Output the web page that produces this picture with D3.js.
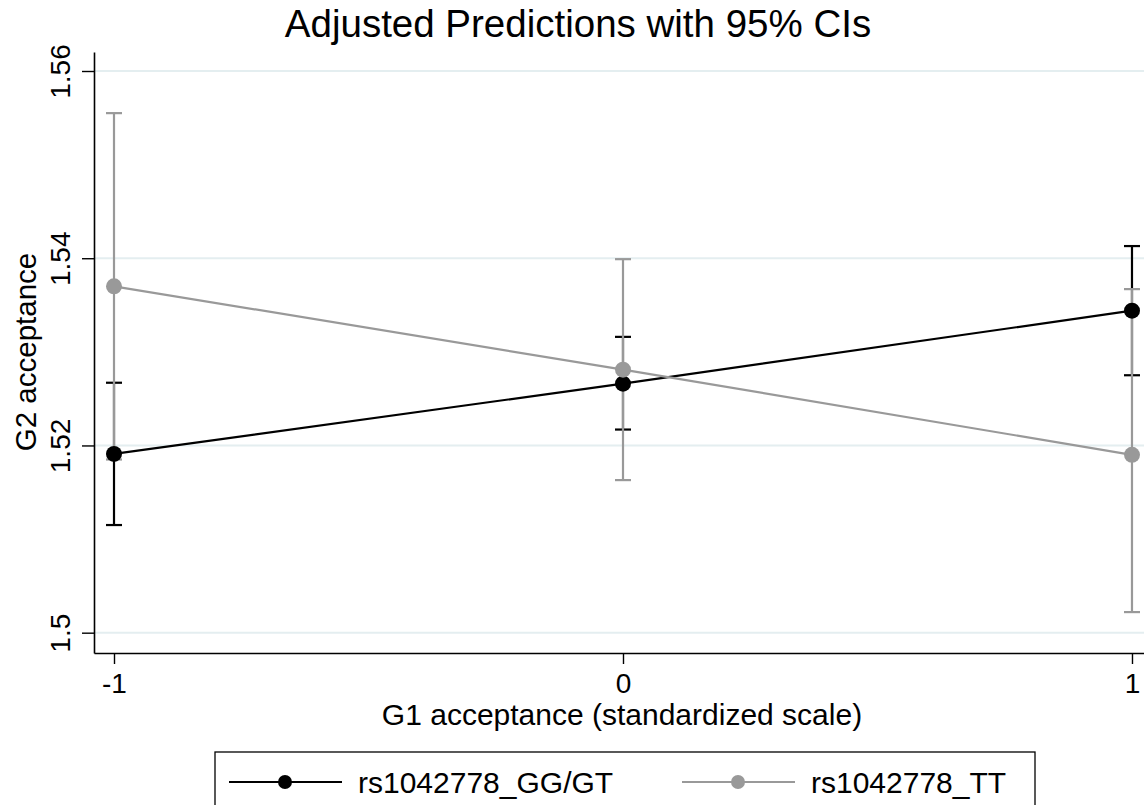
<!DOCTYPE html>
<html>
<head>
<meta charset="utf-8">
<script src="https://cdn.jsdelivr.net/npm/d3@7"></script>
<style>
  html, body { margin: 0; padding: 0; background: #fff; }
  svg { display: block; font-family: "Liberation Sans", Arial, Helvetica, sans-serif; }
</style>
</head>
<body>
<svg id="chart"></svg>
<script>
// Chart size
const width = 1144;
const height = 805;

// Data
const xValues = [-1, 0, 1];
const xTicks = [-1, 0, 1];
const yTicks = [1.5, 1.52, 1.54, 1.56];
const seriesNames = ["rs1042778_GG/GT", "rs1042778_TT"];

const ggMargin = [1.5191, 1.5266, 1.5344];
const ggLower = [1.5115, 1.5217, 1.5275];
const ggUpper = [1.5267, 1.5316, 1.5413];

const ttMargin = [1.5370, 1.5281, 1.5190];
const ttLower = [1.5185, 1.5163, 1.5022];
const ttUpper = [1.5555, 1.5399, 1.5367];

const colors = ["#000000", "#999999"];

const series = [
  { name: seriesNames[0], color: colors[0], values: xValues.map((x, i) => ({ x, y: ggMargin[i], lo: ggLower[i], hi: ggUpper[i] })) },
  { name: seriesNames[1], color: colors[1], values: xValues.map((x, i) => ({ x, y: ttMargin[i], lo: ttLower[i], hi: ttUpper[i] })) }
];

const svg = d3.select("#chart")
  .attr("width", width)
  .attr("height", height);

// Scales (plot region 94..1144 by 52..653)
const x = d3.scaleLinear()
  .domain([-1.0393, 1.0236])
  .range([94, 1144]);

const y = d3.scaleLinear()
  .domain([1.49783, 1.56203])
  .range([653, 52]);

// Gridlines
svg.append("g")
  .selectAll("line")
  .data(yTicks)
  .enter()
  .append("line")
  .attr("x1", 94)
  .attr("x2", width)
  .attr("y1", d => y(d))
  .attr("y2", d => y(d))
  .attr("stroke", "#e4eef0")
  .attr("stroke-width", 2);

// Y axis
const yAxis = svg.append("g")
  .attr("transform", "translate(94,0)")
  .call(d3.axisLeft(y).tickValues(yTicks).tickSize(12).tickSizeOuter(0)
    .tickFormat(d => String(+d.toFixed(2))));
yAxis.select(".domain").attr("stroke", "#000").attr("stroke-width", 1.6);
yAxis.selectAll(".tick line").attr("stroke", "#000").attr("stroke-width", 1.4);
yAxis.selectAll(".tick text")
  .attr("transform", "rotate(-90)")
  .attr("x", 0)
  .attr("y", -24)
  .attr("dy", 0)
  .attr("text-anchor", "middle")
  .attr("fill", "#000")
  .style("font-size", "28px");

// X axis
const xAxis = svg.append("g")
  .attr("transform", "translate(0,653)")
  .call(d3.axisBottom(x).tickValues(xTicks).tickSize(11).tickSizeOuter(0)
    .tickFormat(d => String(d)));
xAxis.select(".domain").attr("stroke", "#000").attr("stroke-width", 1.6);
xAxis.selectAll(".tick line").attr("stroke", "#000").attr("stroke-width", 1.4);
xAxis.selectAll(".tick text")
  .attr("y", 40)
  .attr("dy", 0)
  .attr("fill", "#000")
  .style("font-size", "28px");

// Titles
svg.append("text")
  .attr("x", 578)
  .attr("y", 37)
  .attr("text-anchor", "middle")
  .style("font-size", "38.5px")
  .text("Adjusted Predictions with 95% CIs");

svg.append("text")
  .attr("x", 622)
  .attr("y", 725)
  .attr("text-anchor", "middle")
  .style("font-size", "30px")
  .text("G1 acceptance (standardized scale)");

svg.append("text")
  .attr("transform", "translate(36,352) rotate(-90)")
  .attr("text-anchor", "middle")
  .style("font-size", "29.5px")
  .text("G2 acceptance");

// Confidence intervals
const capHalf = 8;
series.forEach(s => {
  const g = svg.append("g").attr("stroke", s.color).attr("stroke-width", 2.2);
  g.selectAll(".bar")
    .data(s.values)
    .enter()
    .append("line")
    .attr("x1", d => x(d.x))
    .attr("x2", d => x(d.x))
    .attr("y1", d => y(d.lo))
    .attr("y2", d => y(d.hi));
  g.selectAll(".capHi")
    .data(s.values)
    .enter()
    .append("line")
    .attr("x1", d => x(d.x) - capHalf)
    .attr("x2", d => x(d.x) + capHalf)
    .attr("y1", d => y(d.hi))
    .attr("y2", d => y(d.hi));
  g.selectAll(".capLo")
    .data(s.values)
    .enter()
    .append("line")
    .attr("x1", d => x(d.x) - capHalf)
    .attr("x2", d => x(d.x) + capHalf)
    .attr("y1", d => y(d.lo))
    .attr("y2", d => y(d.lo));
});

// Connected lines and markers
const line = d3.line().x(d => x(d.x)).y(d => y(d.y));
series.forEach(s => {
  svg.append("path")
    .datum(s.values)
    .attr("d", line)
    .attr("fill", "none")
    .attr("stroke", s.color)
    .attr("stroke-width", 2.2);
  svg.selectAll(null)
    .data(s.values)
    .enter()
    .append("circle")
    .attr("cx", d => x(d.x))
    .attr("cy", d => y(d.y))
    .attr("r", 8)
    .attr("fill", s.color);
});

// Legend
svg.append("rect")
  .attr("x", 215)
  .attr("y", 752)
  .attr("width", 820)
  .attr("height", 90)
  .attr("fill", "#fff")
  .attr("stroke", "#000")
  .attr("stroke-width", 1.3);

const legendKeys = [229, 682];
const legend = svg.append("g")
  .selectAll("g")
  .data(series)
  .enter()
  .append("g")
  .attr("transform", (d, i) => `translate(${legendKeys[i]},782)`);

legend.append("line")
  .attr("x1", 0)
  .attr("x2", 113)
  .attr("stroke", d => d.color)
  .attr("stroke-width", 2.2);
legend.append("circle")
  .attr("cx", 56)
  .attr("r", 7)
  .attr("fill", d => d.color);
legend.append("text")
  .attr("x", 129)
  .attr("y", 10.5)
  .style("font-size", "30px")
  .text(d => d.name);
</script>
</body>
</html>
